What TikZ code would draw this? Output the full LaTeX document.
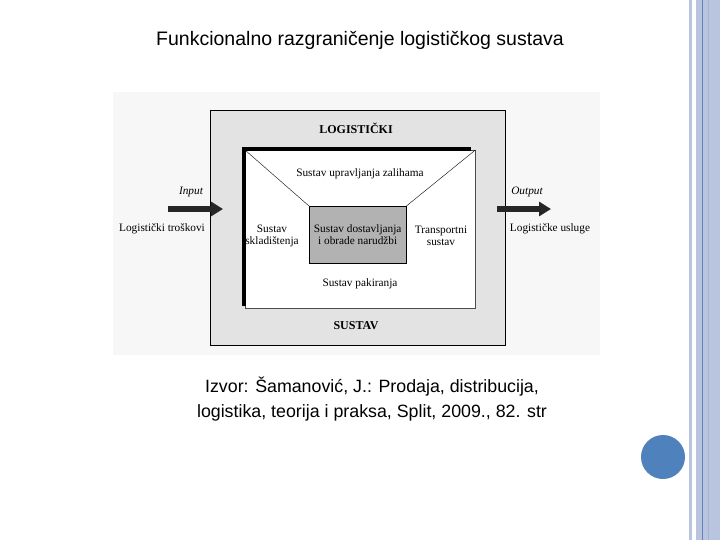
\documentclass[tikz,border=0pt]{standalone}
\usepackage{fontspec}
\usetikzlibrary{arrows.meta}
\setmainfont{Liberation Serif}
\newfontfamily\sansf{Liberation Sans}
\definecolor{barc}{RGB}{185,197,222}
\definecolor{linec}{RGB}{100,130,185}
\definecolor{dotc}{RGB}{79,129,189}
\begin{document}
\begin{tikzpicture}[x=1pt,y=-1pt,
  lab/.style={font=\fontsize{11.3}{12}\selectfont, align=center, inner sep=0},
  big/.style={font=\bfseries\fontsize{12}{13}\selectfont, inner sep=0},
  sans/.style={font=\sansf\fontsize{19.5}{25}\selectfont, align=center, inner sep=0},
  src/.style={font=\sansf\fontsize{17.8}{25}\selectfont, align=center, inner sep=0},
  arr/.style={line width=6pt, -{Triangle[length=12pt,width=14pt]}, black!85}]
\useasboundingbox (0,0) rectangle (720,540);
\fill[white] (0,0) rectangle (720,540);
% side bars
\fill[barc] (689,0) rectangle (692,540);
\fill[barc] (696,0) rectangle (720,540);
\draw[linec, line width=0.8pt] (702,0) -- (702,540);
\draw[linec!60, line width=0.6pt] (708,0) -- (708,540);
\fill[dotc] (663,457) circle (22);
% title
\node[sans] (title) at (360,40) {Funkcionalno razgraničenje logističkog sustava};
% diagram
\fill[gray!6] (113,92) rectangle (600,355);
\node[draw, line width=0.8pt, fill=gray!22, minimum width=295, minimum height=235, anchor=north west, inner sep=0] (outer) at (210,110) {};
\node[fill=white, draw=black!70, minimum width=230, minimum height=158, anchor=north west, inner sep=0] (inner) at (245,150) {};
\fill[black] (242,147) rectangle (471,151);
\fill[black] (242,147) rectangle (246,306);
\node[draw, fill=gray!60, minimum width=97, minimum height=57, anchor=north west, inner sep=0] (core) at (309,206) {};
\draw (inner.north west) -- (core.north west);
\draw (inner.north east) -- (core.north east);
\node[big] (l1) at (356,128) {LOGISTIČKI};
\node[big] (l2) at (356,326) {SUSTAV};
\node[lab] (zal) at (360,174) {Sustav upravljanja zalihama};
\node[lab] (skl) at (272,236) {Sustav\\skladištenja};
\node[lab] (trn) at (441,236) {Transportni\\sustav};
\node[lab] (pak) at (360,284) {Sustav pakiranja};
\node[lab] (dos) at (core.center) {Sustav dostavljanja\\i obrade narudžbi};
\coordinate (ia) at (168,209); \coordinate (ib) at (223,209);
\draw[arr] (ia) -- (ib);
\coordinate (oa) at (497,209); \coordinate (ob) at (551,209);
\draw[arr] (oa) -- (ob);
\node[lab, font=\itshape\fontsize{11.3}{12}\selectfont] (in) at (191,192) {Input};
\node[lab, font=\itshape\fontsize{11.3}{12}\selectfont] (out) at (527,192) {Output};
\node[lab] (lt) at (162,229) {Logistički troškovi};
\node[lab] (lu) at (550,229) {Logističke usluge};
% source
\node[src] (srcn) at (372,399) {Izvor: Šamanović, J.: Prodaja, distribucija,\\logistika, teorija i praksa, Split, 2009., 82. str};
\end{tikzpicture}
\end{document}
